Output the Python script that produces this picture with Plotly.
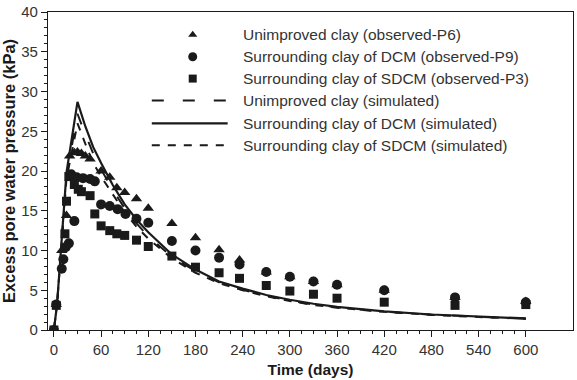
import plotly.graph_objects as go

# ---------------- data ----------------
p6_days = [0, 3, 10, 16, 20, 26, 30, 35, 40, 46, 60, 71, 80, 90, 105, 120, 150, 180, 210, 236, 270, 300, 330, 360, 420, 510, 600]
p6_vals = [0, 3.2, 10.0, 14.4, 21.9, 22.3, 22.4, 22.2, 21.9, 21.5, 20.0, 19.2, 17.9, 17.3, 16.5, 15.3, 13.4, 11.6, 10.1, 8.8, 7.3, 6.7, 6.1, 5.7, 5.0, 4.1, 3.6]

p9_days = [0, 3, 10, 12, 15, 19, 22, 26, 29, 37, 46, 52, 60, 71, 81, 91, 105, 120, 150, 180, 210, 236, 270, 300, 330, 360, 420, 510, 600]
p9_vals = [0, 3.2, 7.7, 8.9, 10.4, 10.9, 19.6, 13.7, 19.2, 19.1, 19.0, 18.7, 15.8, 15.6, 15.2, 14.6, 14.0, 13.5, 11.2, 10.0, 9.1, 8.25, 7.3, 6.7, 6.1, 5.7, 5.0, 4.1, 3.5]

p3_days = [0, 3, 14, 16, 19, 26, 31, 35, 46, 52, 60, 71, 80, 90, 105, 120, 150, 180, 210, 236, 270, 300, 330, 360, 420, 510, 600]
p3_vals = [0, 3.1, 12.1, 16.2, 19.3, 18.3, 17.7, 17.4, 16.9, 14.6, 13.1, 12.5, 12.1, 11.9, 11.3, 10.5, 9.3, 7.9, 7.2, 6.5, 5.6, 4.9, 4.5, 4.0, 3.5, 3.1, 3.2]

sim_days = [0, 3, 4, 16, 30, 40, 50, 60, 75, 90, 105, 120, 150, 180, 210, 240, 270, 300, 330, 360, 420, 480, 540, 600]
sim_unimproved = [0, 3, 3.2, 19.3, 27.2, 24.6, 22.2, 20.2, 17.6, 15.3, 13.4, 11.8, 9.2, 7.4, 6.0, 5.05, 4.3, 3.7, 3.2, 2.85, 2.3, 1.92, 1.65, 1.43]
sim_dcm = [0, 3, 3.2, 19.8, 28.7, 25.6, 23.0, 21.0, 18.2, 15.8, 13.9, 12.3, 9.5, 7.6, 6.1, 5.2, 4.4, 3.8, 3.3, 2.9, 2.35, 1.95, 1.68, 1.45]
sim_sdcm = [0, 3, 3.2, 19.0, 26.0, 23.4, 21.0, 19.3, 17.0, 14.8, 13.0, 11.5, 9.0, 7.2, 5.9, 5.0, 4.25, 3.65, 3.15, 2.8, 2.28, 1.9, 1.63, 1.42]

x_ticks = [0, 60, 120, 180, 240, 300, 360, 420, 480, 540, 600]
y_ticks = [0, 5, 10, 15, 20, 25, 30, 35, 40]

legend_labels = [
    "Unimproved clay (observed-P6)",
    "Surrounding clay of DCM (observed-P9)",
    "Surrounding clay of SDCM (observed-P3)",
    "Unimproved clay (simulated)",
    "Surrounding clay of DCM (simulated)",
    "Surrounding clay of SDCM (simulated)",
]

# ---------------- styles ----------------
FONT = "Liberation Sans, Arial, sans-serif"
INK = "#1a1a1a"
TXT = "#333333"
LONG_DASH = "12px,19px"
SHORT_DASH = "8px,8px"

fig = go.Figure()

# simulated curves
fig.add_trace(go.Scatter(x=sim_days, y=sim_unimproved, mode="lines",
                         line=dict(color=INK, width=2, dash=LONG_DASH), showlegend=False))
fig.add_trace(go.Scatter(x=sim_days, y=sim_sdcm, mode="lines",
                         line=dict(color=INK, width=2, dash=SHORT_DASH), showlegend=False))
fig.add_trace(go.Scatter(x=sim_days, y=sim_dcm, mode="lines",
                         line=dict(color=INK, width=2.2), showlegend=False))

# observed points
fig.add_trace(go.Scatter(x=p6_days, y=p6_vals, mode="markers",
                         marker=dict(symbol="triangle-up", size=10, color=INK), showlegend=False))
fig.add_trace(go.Scatter(x=p9_days, y=p9_vals, mode="markers",
                         marker=dict(symbol="circle", size=10, color=INK), showlegend=False))
fig.add_trace(go.Scatter(x=p3_days, y=p3_vals, mode="markers",
                         marker=dict(symbol="square", size=9, color=INK), showlegend=False))

# ---------------- manual legend (overlay axis in pixel units) ----------------
leg_rows = [33, 55, 77, 99, 122, 144]
leg_sym_x = 193
leg_line_x0, leg_line_x1 = 152, 228
leg_text_x = 241
marker_syms = ["triangle-up", "circle", "square"]
marker_sizes = [8, 9, 8]
for i in range(3):
    fig.add_trace(go.Scatter(x=[leg_sym_x], y=[leg_rows[i]], mode="markers", xaxis="x2", yaxis="y2",
                             marker=dict(symbol=marker_syms[i], size=marker_sizes[i], color=INK),
                             showlegend=False, hoverinfo="skip"))
line_styles = [dict(dash=LONG_DASH, width=2), dict(width=2.2), dict(dash=SHORT_DASH, width=2)]
for j in range(3):
    r = leg_rows[3 + j]
    fig.add_trace(go.Scatter(x=[leg_line_x0, leg_line_x1], y=[r, r], mode="lines", xaxis="x2", yaxis="y2",
                             line=dict(color=INK, **line_styles[j]), showlegend=False, hoverinfo="skip"))
for lbl, r in zip(legend_labels, leg_rows):
    fig.add_annotation(x=leg_text_x, y=r, xref="x2", yref="y2", text=lbl, showarrow=False,
                       xanchor="left", yanchor="middle", font=dict(family=FONT, size=15.5, color=TXT))

fig.update_layout(
    width=577, height=380,
    margin=dict(l=48, r=3, t=10, b=50),
    paper_bgcolor="white", plot_bgcolor="white",
    font=dict(family=FONT, size=15, color=TXT),
    showlegend=False,
    xaxis=dict(
        range=[-7.5, 660], tickvals=x_ticks, ticktext=[str(v) for v in x_ticks],
        ticks="outside", ticklen=6, tickwidth=1, tickcolor=INK,
        showline=True, linecolor=INK, linewidth=1.3, mirror=True,
        showgrid=False, zeroline=False,
        tickfont=dict(family=FONT, size=15, color=TXT),
        minor=dict(tickvals=list(range(0, 601, 15)), ticks="outside", ticklen=3, tickcolor=INK),
        title=dict(text="<b>Time (days)</b>", font=dict(family=FONT, size=15.5, color=INK), standoff=6),
    ),
    yaxis=dict(
        range=[0, 40], tickvals=y_ticks,
        ticks="outside", ticklen=6, tickwidth=1, tickcolor=INK,
        showline=True, linecolor=INK, linewidth=1.3, mirror=True,
        showgrid=False, zeroline=False,
        tickfont=dict(family=FONT, size=15, color=TXT),
        minor=dict(tickvals=list(range(0, 41, 1)), ticks="outside", ticklen=3, tickcolor=INK),
        title=dict(text="<b>Excess pore water pressure (kPa)</b>", font=dict(family=FONT, size=16.5, color=INK), standoff=3),
    ),
    xaxis2=dict(overlaying="x", range=[48, 574], visible=False, anchor="y2"),
    yaxis2=dict(overlaying="y", range=[330, 10], visible=False, anchor="x2"),
)

fig.write_html("out.html")
